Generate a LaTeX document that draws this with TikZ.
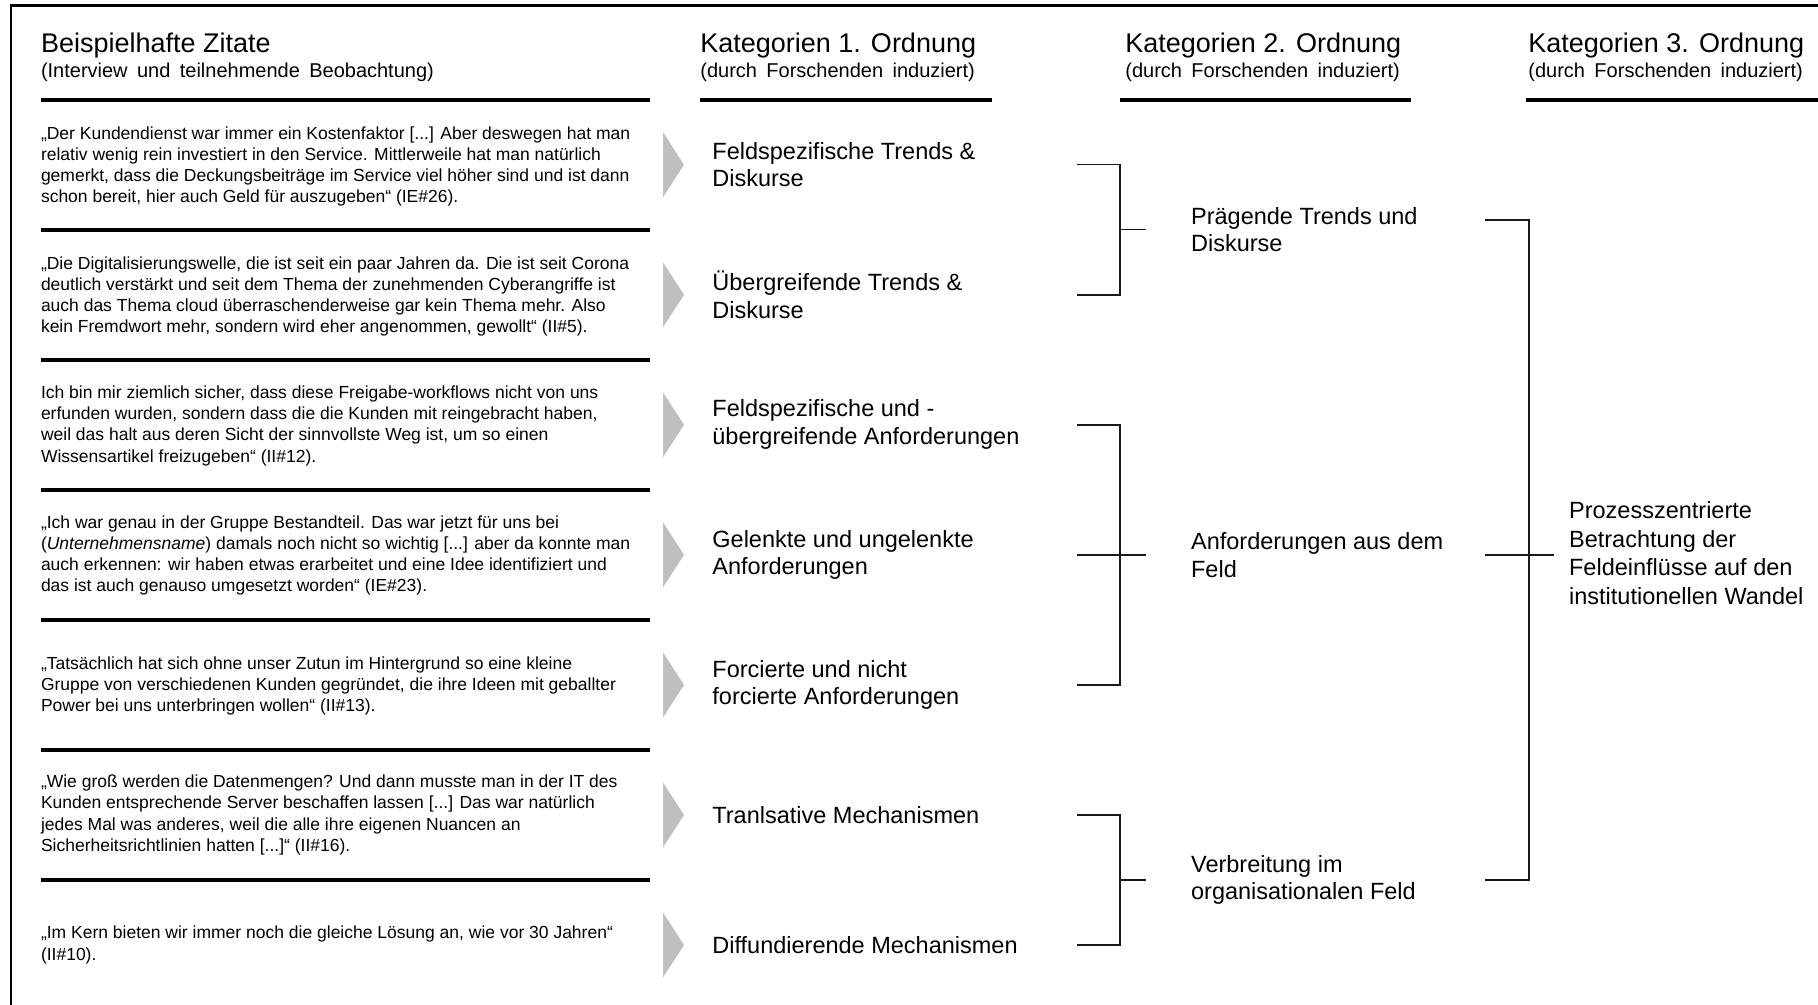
\documentclass[tikz,border=0pt]{standalone}
\usepackage{fontspec}
\setmainfont{Liberation Sans}
\newcommand\widespaces{\spaceskip=4.7pt\relax}
\begin{document}
\begin{tikzpicture}[x=0.5pt,y=-0.5pt,
  hdr/.style={anchor=base west,inner sep=0,font=\fontsize{13.5}{16}\selectfont},
  subhdr/.style={anchor=base west,inner sep=0,font=\fontsize{10}{12}\selectfont\widespaces},
  rule/.style={line width=2pt,black},
  frame/.style={line width=1.2pt,black},
  quote/.style={anchor=west,inner sep=0,align=left,font=\fontsize{8.75}{10.6}\selectfont},
  cat/.style={anchor=west,inner sep=0,align=left,font=\fontsize{11.75}{13.9}\selectfont},
  tri/.style={fill=black!25,draw=none},
  brace/.style={line width=0.8pt,black!90}]

\useasboundingbox (0,0) rectangle (1818,1005);

% outer frame (top and left edge)
\draw[frame] (11,1005) -- (11,5.5) -- (1818,5.5);

% column headings
\node[hdr] (h1) at (40.6,53) {Beispielhafte Zitate};
\node[subhdr] (s1) at (40.6,78) {(Interview und teilnehmende Beobachtung)};
\node[hdr] (h2) at (700,53) {Kategorien 1. Ordnung};
\node[subhdr] (s2) at (700,78) {(durch Forschenden induziert)};
\node[hdr] (h3) at (1125,53) {Kategorien 2. Ordnung};
\node[subhdr] (s3) at (1125,78) {(durch Forschenden induziert)};
\node[hdr] (h4) at (1528,53) {Kategorien 3. Ordnung};
\node[subhdr] (s4) at (1528,78) {(durch Forschenden induziert)};

% heading rules
\draw[rule] (40.6,99.7) -- (650,99.7);
\draw[rule] (700,99.7) -- (992,99.7);
\draw[rule] (1120,99.7) -- (1411,99.7);
\draw[rule] (1526,99.7) -- (1818,99.7);

% separators between the quotes
\foreach \y in {229.7,359.8,489.9,619.9,750.0,880.0}
  \draw[rule] (40.6,\y) -- (650,\y);

% grey arrow heads
\foreach \y in {164.7,294.8,424.8,554.9,684.9,815.0,945.0}
  \fill[tri] (663,\y-32.5) -- (684,\y) -- (663,\y+32.5) -- cycle;

% quotes
\node[quote] (q1) at (40.6,166.5) {„Der Kundendienst war immer ein Kostenfaktor [...] Aber deswegen hat man\\ relativ wenig rein investiert in den Service. Mittlerweile hat man natürlich\\ gemerkt, dass die Deckungsbeiträge im Service viel höher sind und ist dann\\ schon bereit, hier auch Geld für auszugeben“ (IE\#26).};
\node[quote] (q2) at (40.6,296.3) {„Die Digitalisierungswelle, die ist seit ein paar Jahren da. Die ist seit Corona\\ deutlich verstärkt und seit dem Thema der zunehmenden Cyberangriffe ist\\ auch das Thema cloud überraschenderweise gar kein Thema mehr. Also\\ kein Fremdwort mehr, sondern wird eher angenommen, gewollt“ (II\#5).};
\node[quote] (q3) at (40.6,425.8) {Ich bin mir ziemlich sicher, dass diese Freigabe-workflows nicht von uns\\ erfunden wurden, sondern dass die die Kunden mit reingebracht haben,\\ weil das halt aus deren Sicht der sinnvollste Weg ist, um so einen\\ Wissensartikel freizugeben“ (II\#12).};
\node[quote] (q4) at (40.6,555.4) {„Ich war genau in der Gruppe Bestandteil. Das war jetzt für uns bei\\ (\textit{Unternehmensname}) damals noch nicht so wichtig [...] aber da konnte man\\ auch erkennen: wir haben etwas erarbeitet und eine Idee identifiziert und\\ das ist auch genauso umgesetzt worden“ (IE\#23).};
\node[quote] (q5) at (40.6,686.0) {„Tatsächlich hat sich ohne unser Zutun im Hintergrund so eine kleine\\ Gruppe von verschiedenen Kunden gegründet, die ihre Ideen mit geballter\\ Power bei uns unterbringen wollen“ (II\#13).};
\node[quote] (q6) at (40.6,815.0) {„Wie groß werden die Datenmengen? Und dann musste man in der IT des\\ Kunden entsprechende Server beschaffen lassen [...] Das war natürlich\\ jedes Mal was anderes, weil die alle ihre eigenen Nuancen an\\ Sicherheitsrichtlinien hatten [...]“ (II\#16).};
\node[quote] (q7) at (40.6,945.0) {„Im Kern bieten wir immer noch die gleiche Lösung an, wie vor 30 Jahren“\\ (II\#10).};

% first-order categories
\node[cat] (c1) at (712,164.7) {Feldspezifische Trends \&\\ Diskurse};
\node[cat] (c2) at (712,294.8) {Übergreifende Trends \&\\ Diskurse};
\node[cat] (c3) at (712,424.8) {Feldspezifische und -\\ übergreifende Anforderungen};
\node[cat] (c4) at (712,554.9) {Gelenkte und ungelenkte\\ Anforderungen};
\node[cat] (c5) at (712,684.9) {Forcierte und nicht\\ forcierte Anforderungen};
\node[cat] (c6) at (712,815.0) {Tranlsative Mechanismen};
\node[cat] (c7) at (712,945.0) {Diffundierende Mechanismen};

% second-order categories
\node[cat] (m1) at (1190.7,229.7) {Prägende Trends und\\ Diskurse};
\node[cat] (m2) at (1190.7,554.9) {Anforderungen aus dem\\ Feld};
\node[cat] (m3) at (1190.7,880.0) {Verbreitung im\\ organisationalen Feld};

% third-order category
\node[cat,font=\fontsize{11.75}{14.3}\selectfont] (t1) at (1568.7,553) {Prozesszentrierte\\ Betrachtung der\\ Feldeinflüsse auf den\\ institutionellen Wandel};

% bracket corners
\coordinate (k1a) at (1077,164.7);
\coordinate (k1b) at (1077,294.8);
\coordinate (k1v) at (1120,229.7);
\coordinate (k1s) at (1145.5,229.7);
\coordinate (k2a) at (1077,424.8);
\coordinate (k2b) at (1077,684.9);
\coordinate (k2m) at (1077,554.9);
\coordinate (k2v) at (1120,554.9);
\coordinate (k2s) at (1145.5,554.9);
\coordinate (k3a) at (1077,815.0);
\coordinate (k3b) at (1077,945.0);
\coordinate (k3v) at (1120,880.0);
\coordinate (k3s) at (1145.5,880.0);
\coordinate (k4a) at (1485,220);
\coordinate (k4b) at (1485,880.0);
\coordinate (k4m) at (1485,554.9);
\coordinate (k4v) at (1529,554.9);
\coordinate (k4s) at (1553.6,554.9);

% brackets
\draw[brace] (k1a) -| (k1v) |- (k1b);
\draw[brace] (k1v) -- (k1s);
\draw[brace] (k2a) -| (k2v) |- (k2b);
\draw[brace] (k2m) -- (k2s);
\draw[brace] (k3a) -| (k3v) |- (k3b);
\draw[brace] (k3v) -- (k3s);
\draw[brace] (k4a) -| (k4v) |- (k4b);
\draw[brace] (k4m) -- (k4s);
\end{tikzpicture}
\end{document}
